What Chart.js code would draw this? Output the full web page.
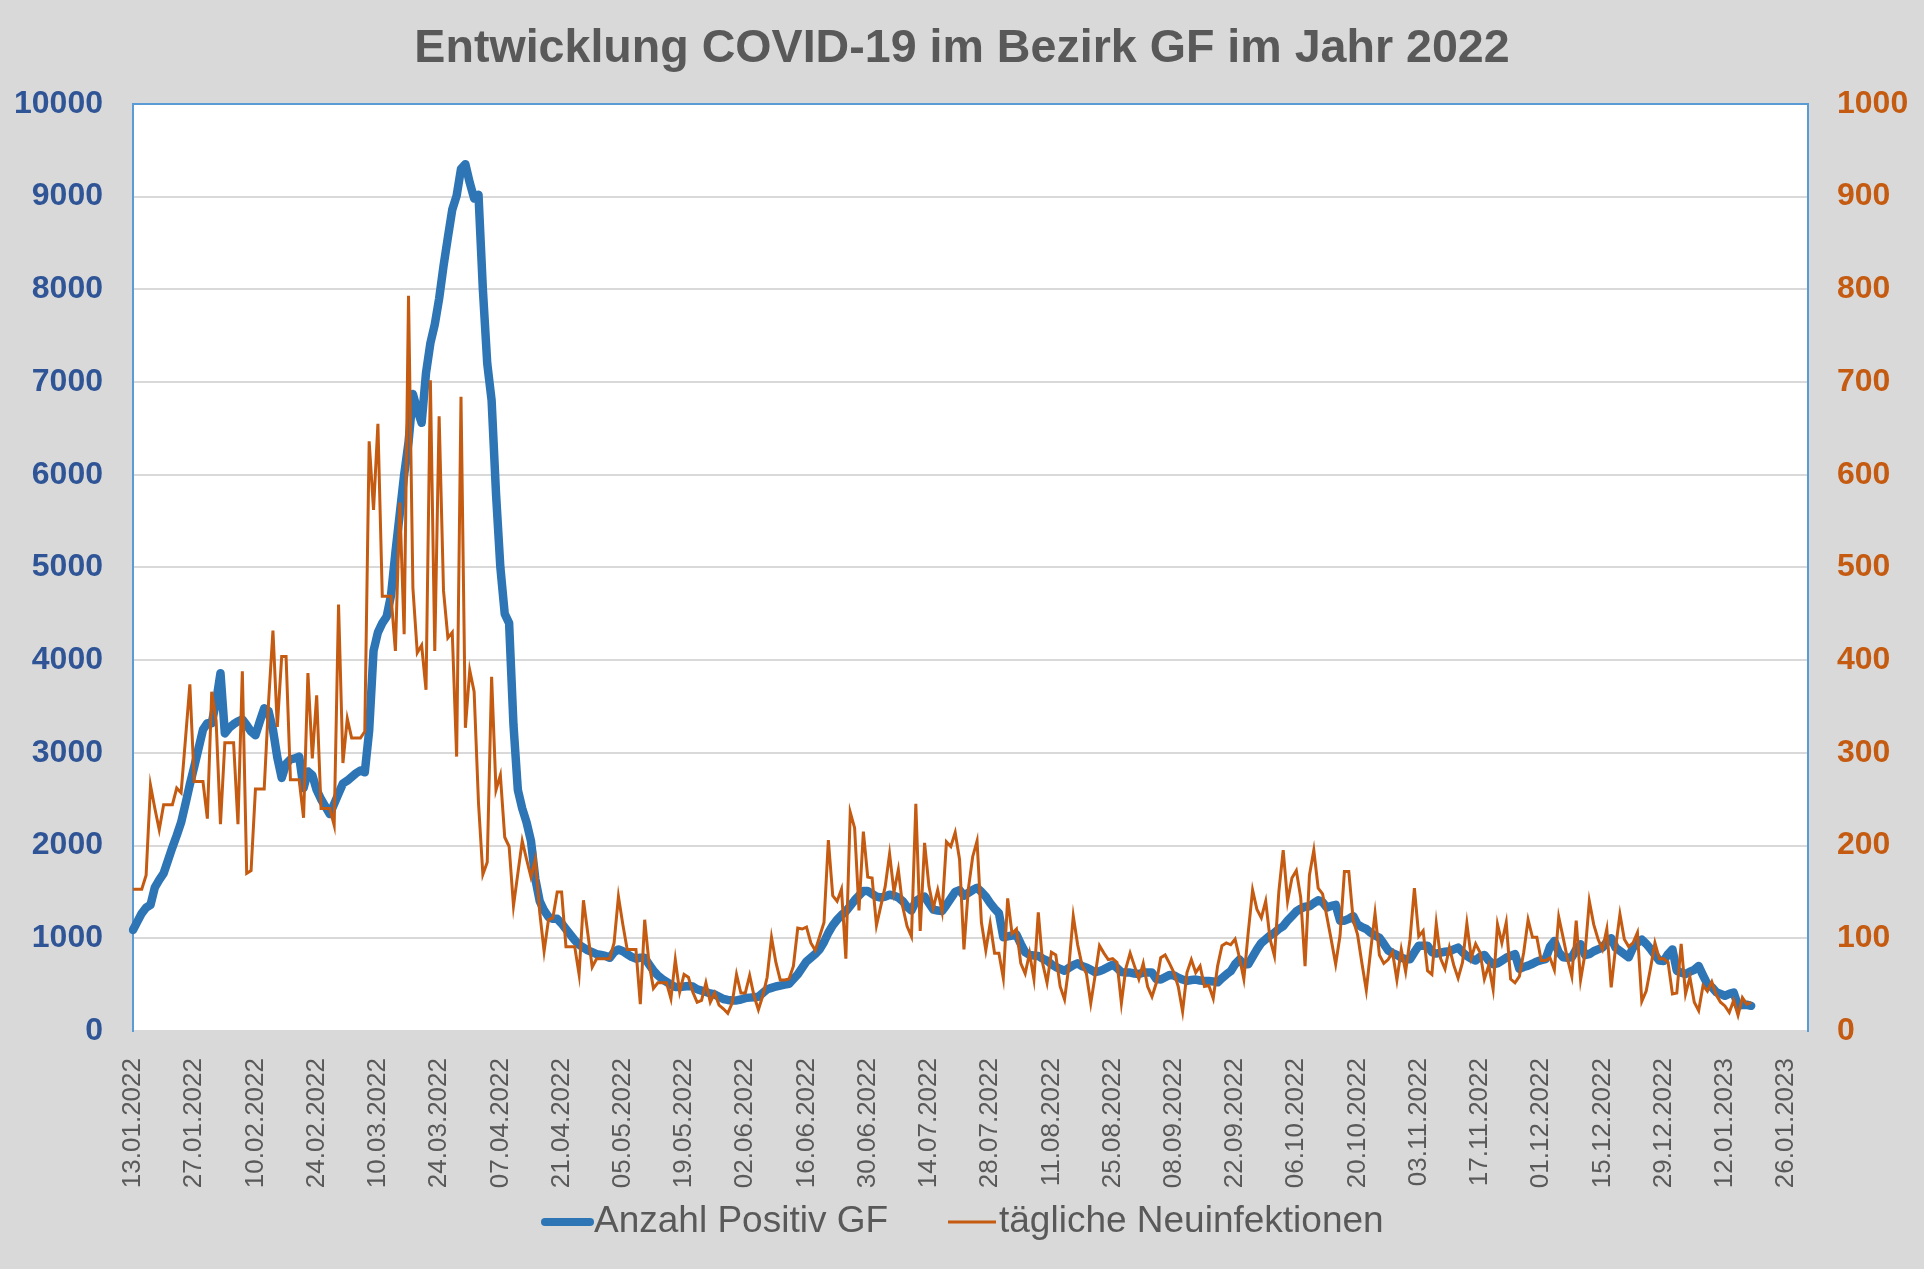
<!DOCTYPE html>
<html>
<head>
<meta charset="utf-8">
<script src="https://cdn.jsdelivr.net/npm/chart.js@4.4.1/dist/chart.umd.min.js"></script>
<style>
  html, body { margin: 0; padding: 0; background: #d9d9d9; }
  canvas { display: block; }
</style>
</head>
<body>
<canvas id="covidChart" width="1924" height="1269"></canvas>
<script>
// x axis: one category per day, a date label every 14 days
const tickLabels = [
    '13.01.2022', '27.01.2022', '10.02.2022', '24.02.2022', '10.03.2022', '24.03.2022', '07.04.2022',
    '21.04.2022', '05.05.2022', '19.05.2022', '02.06.2022', '16.06.2022', '30.06.2022', '14.07.2022',
    '28.07.2022', '11.08.2022', '25.08.2022', '08.09.2022', '22.09.2022', '06.10.2022', '20.10.2022',
    '03.11.2022', '17.11.2022', '01.12.2022', '15.12.2022', '29.12.2022', '12.01.2023', '26.01.2023'
];
const labelStep = 14;
const axisDays = 384;

// Anzahl Positiv GF (left axis), daily from 13.01.2022
const positiveGF = [
    1090, 1180, 1270, 1330, 1360, 1550, 1630, 1700, 1840, 1980,
    2110, 2250, 2450, 2660, 2850, 3050, 3250, 3320, 3320, 3550,
    3860, 3210, 3270, 3310, 3340, 3360, 3300, 3230, 3190, 3340,
    3480, 3450, 3250, 2950, 2730, 2880, 2930, 2940, 2960, 2620,
    2800, 2760, 2600, 2500, 2420, 2340, 2450, 2560, 2670, 2700,
    2740, 2780, 2810, 2790, 3240, 4100, 4300, 4400, 4470, 4700,
    5160, 5580, 6000, 6350, 6870, 6700, 6560, 7100, 7420, 7620,
    7900, 8250, 8560, 8860, 9010, 9300, 9350, 9150, 8980, 9020,
    8000, 7200, 6800, 5800, 5000, 4500, 4400, 3300, 2600, 2400,
    2250, 2050, 1640, 1400, 1300, 1230, 1210, 1210, 1160, 1100,
    1040, 980, 930, 900, 870, 850, 830, 820, 810, 790,
    850, 880, 860, 830, 800, 780, 790, 790, 720, 650,
    600, 560, 530, 500, 475, 475, 480, 485, 480, 450,
    435, 420, 405, 395, 370, 345, 335, 330, 330, 340,
    355, 360, 365, 370, 410, 450, 465, 480, 490, 500,
    510, 560, 610, 680, 750, 790, 830, 880, 960, 1060,
    1140, 1200, 1250, 1290, 1350, 1410, 1460, 1510, 1510, 1480,
    1450, 1440, 1450, 1470, 1460, 1440, 1400, 1340, 1300, 1400,
    1430, 1450, 1380, 1310, 1300, 1295, 1360, 1430, 1500, 1520,
    1460, 1490, 1520, 1545, 1500, 1450, 1380, 1320, 1270, 1010,
    1020, 1030, 1040, 940, 850, 820, 815, 810, 780, 760,
    720, 690, 670, 650, 680, 710, 730, 700, 685, 660,
    635, 645, 665, 690, 715, 680, 635, 630, 630, 620,
    615, 630, 630, 630, 560, 555, 580, 605, 600, 575,
    555, 540, 550, 555, 545, 540, 540, 535, 525, 570,
    610, 645, 720, 770, 720, 720, 800, 880, 950, 990,
    1030, 1060, 1100, 1130, 1190, 1240, 1290, 1320, 1340, 1345,
    1380, 1410, 1390, 1330, 1350, 1360, 1190, 1190, 1210, 1240,
    1150, 1120, 1100, 1060, 1030, 1005, 940, 870, 840, 820,
    790, 775, 775, 850, 920, 920, 920, 850, 835, 845,
    855, 860, 880, 900, 850, 810, 780, 760, 800, 820,
    760, 720, 730, 760, 790, 810, 830, 670, 690, 705,
    725, 750, 765, 775, 910, 970, 850, 795, 790, 795,
    880, 935, 820, 830, 860, 880, 900, 960, 1000, 900,
    865, 830, 795, 900, 950, 985, 940, 885, 820, 760,
    755, 830, 880, 650, 630, 615, 640, 660, 700, 600,
    505, 475, 420, 400, 380, 400, 415, 275, 280, 283,
    272
];

// tägliche Neuinfektionen (right axis), daily from 13.01.2022
const dailyNew = [
    153, 153, 153, 168, 265, 240, 217, 244, 244, 244,
    262, 257, 315, 374, 269, 269, 269, 229, 366, 335,
    223, 311, 311, 311, 223, 388, 170, 173, 261, 261,
    261, 355, 432, 328, 404, 404, 271, 271, 271, 230,
    386, 294, 362, 240, 240, 240, 222, 460, 289, 337,
    316, 316, 316, 323, 636, 562, 655, 469, 469, 469,
    410, 570, 428, 793, 478, 408, 416, 368, 702, 410,
    663, 475, 424, 430, 296, 684, 327, 389, 366, 246,
    169, 182, 382, 260, 276, 209, 199, 135, 170, 205,
    185, 166, 185, 128, 86, 120, 122, 150, 150, 91,
    91, 91, 61, 141, 105, 69, 78, 78, 78, 78,
    95, 145, 115, 88, 88, 88, 29, 120, 73, 46,
    52, 52, 52, 35, 77, 42, 61, 58, 42, 31,
    33, 52, 31, 41, 28, 24, 19, 30, 61, 41,
    41, 60, 38, 23, 38, 58, 101, 74, 55, 55,
    56, 70, 111, 110, 112, 95, 87, 102, 117, 206,
    146, 140, 153, 78, 236, 219, 130, 215, 166, 165,
    114, 135, 156, 191, 150, 174, 134, 113, 102, 245,
    108, 203, 156, 133, 152, 129, 204, 199, 214, 185,
    88, 153, 188, 205, 117, 87, 116, 84, 84, 57,
    143, 105, 110, 73, 62, 84, 56, 128, 73, 52,
    85, 82, 48, 34, 70, 124, 93, 71, 62, 30,
    60, 92, 84, 77, 78, 74, 30, 67, 84, 70,
    56, 73, 48, 37, 52, 79, 82, 73, 63, 48,
    21, 63, 77, 63, 70, 48, 49, 35, 70, 92,
    95, 93, 99, 79, 56, 106, 152, 131, 122, 140,
    99, 81, 150, 195, 140, 165, 173, 144, 70, 168,
    195, 154, 148, 123, 98, 72, 103, 172, 172, 120,
    104, 73, 44, 87, 127, 82, 73, 77, 85, 55,
    88, 64, 99, 154, 102, 108, 65, 61, 116, 78,
    67, 90, 71, 57, 74, 116, 79, 94, 85, 56,
    71, 45, 115, 95, 117, 56, 52, 59, 85, 120,
    101, 101, 76, 76, 79, 66, 123, 101, 78, 59,
    119, 55, 83, 140, 115, 99, 88, 110, 47, 90,
    126, 99, 91, 95, 106, 32, 43, 68, 95, 78,
    78, 74, 40, 41, 94, 40, 58, 31, 22, 49,
    43, 53, 39, 31, 27, 20, 33, 17, 36, 29,
    31
];

const FONT = "'Liberation Sans', Arial, Helvetica, sans-serif";
const BLUE = '#2e75b6';
const ORANGE = '#c55a11';
const TEXT_GRAY = '#595959';

const dayCategories = Array.from({ length: axisDays }, (_, i) => i);

// white plot area, top border and the legend under the axis labels
const plotDecor = {
    id: 'plotDecor',
    beforeDraw(chart) {
        const { ctx, chartArea: a } = chart;
        ctx.save();
        ctx.fillStyle = '#ffffff';
        ctx.fillRect(a.left, a.top, a.right - a.left, a.bottom - a.top);
        ctx.restore();
    },
    afterDraw(chart) {
        const { ctx, chartArea: a } = chart;
        ctx.save();
        ctx.strokeStyle = '#5b9bd5';
        ctx.lineWidth = 2;
        ctx.beginPath();
        ctx.moveTo(a.left, a.top);
        ctx.lineTo(a.right, a.top);
        ctx.stroke();

        // legend
        const y = 1222;
        ctx.lineCap = 'round';
        ctx.strokeStyle = BLUE;
        ctx.lineWidth = 8;
        ctx.beginPath();
        ctx.moveTo(545, y);
        ctx.lineTo(590, y);
        ctx.stroke();
        ctx.lineCap = 'butt';
        ctx.strokeStyle = ORANGE;
        ctx.lineWidth = 3;
        ctx.beginPath();
        ctx.moveTo(948, y);
        ctx.lineTo(996, y);
        ctx.stroke();

        ctx.fillStyle = TEXT_GRAY;
        ctx.font = '37px ' + FONT;
        ctx.textBaseline = 'middle';
        ctx.textAlign = 'left';
        ctx.fillText('Anzahl Positiv GF', 594, y);
        ctx.fillText('tägliche Neuinfektionen', 999, y);
        ctx.restore();
    }
};

new Chart(document.getElementById('covidChart'), {
    type: 'line',
    data: {
        labels: dayCategories,
        datasets: [
            {
                label: 'tägliche Neuinfektionen',
                data: dailyNew,
                yAxisID: 'y1',
                borderColor: ORANGE,
                borderWidth: 3,
                pointRadius: 0,
                tension: 0,
                order: 1
            },
            {
                label: 'Anzahl Positiv GF',
                data: positiveGF,
                yAxisID: 'y',
                borderColor: BLUE,
                borderWidth: 8.5,
                borderJoinStyle: 'round',
                borderCapStyle: 'round',
                pointRadius: 0,
                tension: 0,
                order: 2
            }
        ]
    },
    options: {
        responsive: false,
        animation: false,
        devicePixelRatio: 1,
        layout: { padding: 0 },
        plugins: {
            legend: { display: false },
            tooltip: { enabled: false },
            title: {
                display: true,
                text: 'Entwicklung COVID-19 im Bezirk GF im Jahr 2022',
                color: TEXT_GRAY,
                font: { family: FONT, size: 46.6, weight: 'bold' },
                padding: { top: 21, bottom: 27 }
            }
        },
        scales: {
            x: {
                type: 'category',
                offset: false,
                grid: { display: false },
                border: { display: false },
                ticks: {
                    autoSkip: false,
                    minRotation: 90,
                    maxRotation: 90,
                    padding: 19,
                    color: TEXT_GRAY,
                    font: { family: FONT, size: 26 },
                    callback: (val, i) => (i % labelStep === 0 ? tickLabels[i / labelStep] : '')
                },
                afterFit(scale) { scale.height = 238; }
            },
            y: {
                position: 'left',
                min: 0,
                max: 10000,
                grid: { color: '#d9d9d9', lineWidth: 2, drawTicks: false },
                border: { color: '#5b9bd5', width: 2 },
                ticks: {
                    stepSize: 1000,
                    padding: 30,
                    color: '#2f5597',
                    font: { family: FONT, size: 32, weight: 'bold' },
                    callback: (v) => String(v)
                },
                afterFit(scale) { scale.width = 133; }
            },
            y1: {
                position: 'right',
                min: 0,
                max: 1000,
                grid: { display: false, drawTicks: false },
                border: { color: '#5b9bd5', width: 2 },
                ticks: {
                    stepSize: 100,
                    padding: 29,
                    color: ORANGE,
                    font: { family: FONT, size: 32, weight: 'bold' },
                    callback: (v) => String(v)
                },
                afterFit(scale) { scale.width = 116; }
            }
        }
    },
    plugins: [plotDecor]
});
</script>
</body>
</html>
